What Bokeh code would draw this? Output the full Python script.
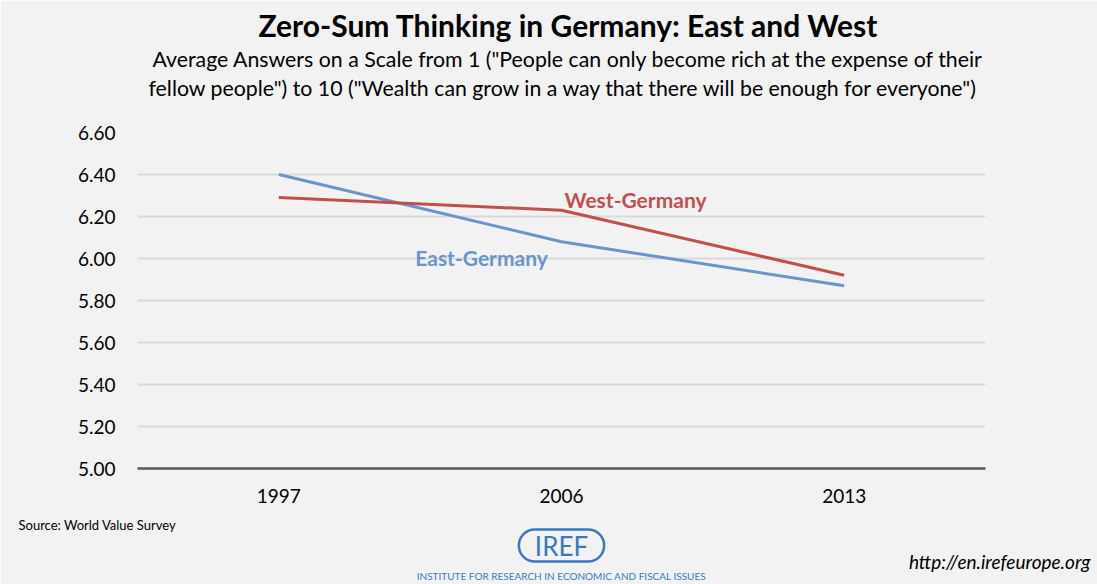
from bokeh.plotting import figure
from bokeh.models import Label, Title, FactorRange, Range1d, FixedTicker, CustomJSTickFormatter
from bokeh.embed import file_html
from bokeh.resources import INLINE

years = ["1997", "2006", "2013"]
east = [6.40, 6.08, 5.87]
west = [6.29, 6.23, 5.92]
y_ticks = [5.0, 5.2, 5.4, 5.6, 5.8, 6.0, 6.2, 6.4, 6.6]

title = "Zero-Sum Thinking in Germany: East and West"
subtitle1 = 'Average Answers on a Scale from 1 ("People can only become rich at the expense of their'
subtitle2 = 'fellow people") to 10 ("Wealth can grow in a way that there will be enough for everyone")'
source = "Source: World Value Survey"
url = "http://en.irefeurope.org"

FONT = "Lato"
BG = "#F2F2F2"
BLUE = "#6A95C9"
RED = "#C0504D"
LOGO = "#3B78C0"

W, H = 1097, 584
p = figure(width=W, height=H, x_range=FactorRange(*years, range_padding=0),
           y_range=Range1d(5.0, 6.6), output_backend="svg", toolbar_location=None,
           min_border_left=137, min_border_right=112, min_border_top=132, min_border_bottom=116)
p.background_fill_color = BG
p.border_fill_color = BG
p.outline_line_color = None

p.line(years, east, line_color=BLUE, line_width=3)
p.line(years, west, line_color=RED, line_width=3)

p.yaxis.ticker = FixedTicker(ticks=y_ticks)
p.yaxis.formatter = CustomJSTickFormatter(code="return tick.toFixed(2);")
p.yaxis.axis_line_color = None
p.yaxis.major_tick_line_color = None
p.yaxis.minor_tick_line_color = None
p.yaxis.major_label_text_font = FONT
p.yaxis.major_label_text_font_size = "19px"
p.yaxis.major_label_text_color = "#000000"
p.yaxis.major_label_standoff = 16

p.xaxis.axis_line_color = "#595959"
p.xaxis.axis_line_width = 2.5
p.xaxis.major_tick_line_color = None
p.xaxis.minor_tick_line_color = None
p.xaxis.major_label_text_font = FONT
p.xaxis.major_label_text_font_size = "19px"
p.xaxis.major_label_text_color = "#000000"
p.xaxis.major_label_standoff = 14

p.xgrid.grid_line_color = None
p.ygrid.grid_line_color = "#D9D9D9"
p.ygrid.grid_line_width = 2

def ttl(text, place, size, align="center", offset=0, standoff=0, color="#000000", style="normal", **kw):
    t = Title(text=text, align=align, offset=offset, standoff=standoff,
              text_font=FONT, text_font_size=size, text_color=color,
              text_font_style=style, **kw)
    p.add_layout(t, place)

# top (added nearest-first); first one is an empty spacer row
ttl(" ", "above", "21.3px", standoff=4)
ttl(subtitle2, "above", "21.3px", align="left", offset=11, standoff=0)
ttl(subtitle1, "above", "21.3px", align="left", offset=15, standoff=2)
ttl(title, "above", "30px", style="bold", align="left", offset=121, standoff=-1)

# bottom (added nearest-first)
ttl(source, "below", "13px", align="left", offset=-119, standoff=19)
ttl("IREF", "below", "26px", color=LOGO, standoff=-30,
    border_line_color=LOGO, border_line_width=2.5, border_radius=18,
    padding=dict(left=16, right=16, top=0, bottom=0))
ttl(url, "below", "19px", align="right", offset=-105, standoff=2, style="italic")
ttl("INSTITUTE FOR RESEARCH IN ECONOMIC AND FISCAL ISSUES", "below", "10px", color=LOGO, standoff=-11)

# series labels placed next to the lines (data units)
p.add_layout(Label(x=1.762, y=6.281, text="West-Germany", text_font=FONT, text_font_size="21px",
                   text_font_style="bold", text_color=RED, text_align="center", text_baseline="middle"))
p.add_layout(Label(x=1.217, y=6.005, text="East-Germany", text_font=FONT, text_font_size="21px",
                   text_font_style="bold", text_color=BLUE, text_align="center", text_baseline="middle"))

open("out.html", "w").write(file_html(p, INLINE))
